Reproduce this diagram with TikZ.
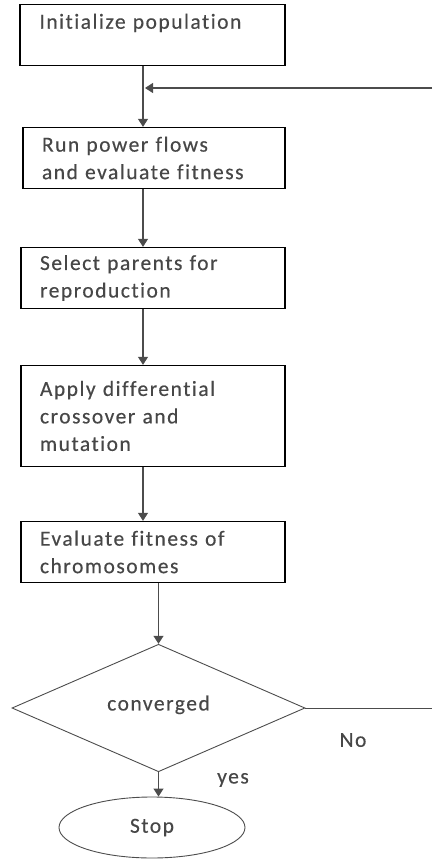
\documentclass[tikz,border=0pt]{standalone}
\usepackage{fontspec}
\setmainfont[LetterSpace=7,Ligatures={NoCommon},FakeBold=0.4]{Carlito}
\usetikzlibrary{shapes.geometric,arrows.meta}
\begin{document}
\begin{tikzpicture}[x=1pt,y=-1pt,
  every node/.style={font=\fontsize{21.5}{27.5}\selectfont, text=black!72},
  stepbox/.style={draw=black, line width=1.3pt, minimum height=61pt, text width=226pt, inner xsep=19pt, inner ysep=0pt, align=left},
  arr/.style={draw=black!70, line width=1.1pt, -{Triangle[width=10pt,length=8pt]}},
  plain/.style={draw=black!70, line width=1pt}]
\useasboundingbox (0,0) rectangle (432,861);
\node[stepbox, minimum width=265pt] (b1) at (152.5,35) {Initialize population\\~};
\node[stepbox, minimum width=262pt, text width=224pt] (b2) at (154,158) {Run power flows\\and evaluate fitness};
\node[stepbox, minimum width=264pt] (b3) at (153,278) {Select parents for\\reproduction};
\node[stepbox, minimum width=264pt, minimum height=101pt] (b4) at (153,416) {Apply differential\\crossover and\\mutation\\[-1pt]};
\node[stepbox, minimum width=264pt] (b5) at (153,552) {Evaluate fitness of\\chromosomes};
\node[draw=black!70, line width=0.9pt, diamond, minimum width=293pt, minimum height=120pt, inner sep=0pt] (d) at (158.5,708) {\raisebox{10pt}{converged}};
\node[draw=black!70, line width=0.9pt, ellipse, minimum width=186pt, minimum height=61pt, inner sep=0pt] (s) at (152,827.5) {Stop};
\node (no) at (353,740) {No};
\node (yes) at (233,780) {yes};
\coordinate (t) at (143,0);
\coordinate (u) at (158.5,0);
\coordinate (j) at (145,88);
\coordinate (fbT) at (432,88);
\coordinate (fbB) at (432,708);
\draw[arr] (b1.south -| t) -- (b2.north -| t);
\draw[arr] (b2.south -| t) -- (b3.north -| t);
\draw[arr] (b3.south -| t) -- (b4.north -| t);
\draw[arr] (b4.south -| t) -- (b5.north -| t);
\draw[arr] (b5.south -| u) -- (d.north);
\draw[arr] (d.south) -- (s.north -| u);
\draw[plain] (d.east) -- (fbB);
\draw[arr] (fbT) -- (j);
\end{tikzpicture}
\end{document}
